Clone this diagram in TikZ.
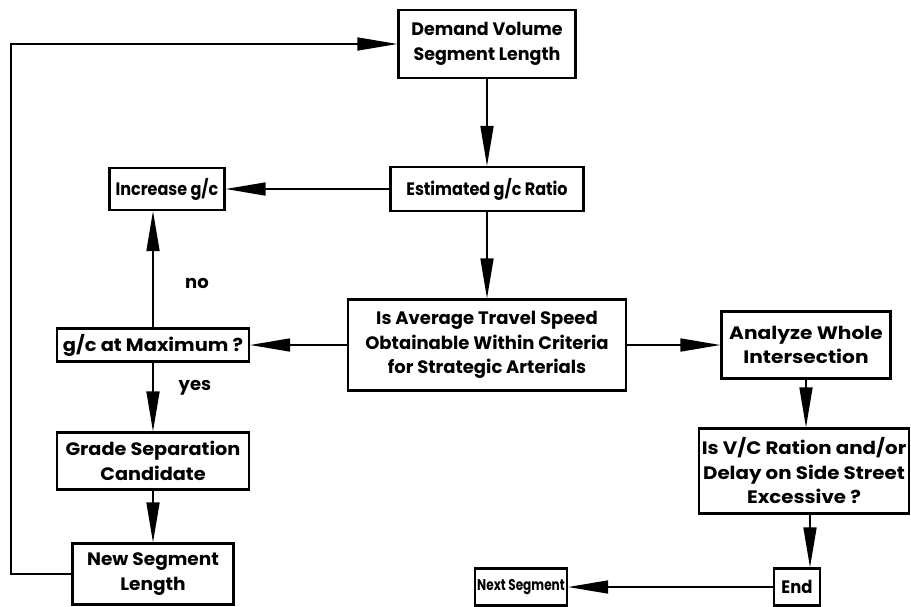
\documentclass[tikz,border=0pt]{standalone}
\usepackage{fontspec}
\setmainfont{Poppins}
\usetikzlibrary{arrows.meta}
\begin{document}
\begin{tikzpicture}[x=1pt,y=-1pt,
  box/.style={draw, line width=2.2pt, align=center, inner sep=0pt,
    font=\fontsize{18}{24.5}\selectfont\bfseries\addfontfeatures{FakeStretch=#1}},
  box/.default=1,
  conn/.style={line width=1.6pt, -{Triangle[length=40pt,width=13pt]}},
  lab/.style={font=\fontsize{18}{22}\selectfont\bfseries}]
\useasboundingbox (0,0) rectangle (911,606);
\node[box=0.97, minimum width=177pt, minimum height=68pt] (dv) at (487,44) {Demand Volume\\Segment Length};
\node[box=0.89, minimum width=193pt, minimum height=44pt] (est) at (487,189) {Estimated g/c Ratio};
\node[box=0.89, minimum width=115pt, minimum height=42pt] (inc) at (167,189) {Increase g/c};
\node[box=1.0, minimum width=278pt, minimum height=91pt] (avg) at (487,345) {Is Average Travel Speed\\Obtainable Within Criteria\\for Strategic Arterials};
\node[box=1.08, minimum width=192pt, minimum height=33pt] (max) at (153,345) {g/c at Maximum ?};
\node[box=1.12, minimum width=169pt, minimum height=67pt] (an) at (806,345) {Analyze Whole\\Intersection};
\node[box=1.1, minimum width=210pt, minimum height=85pt] (vc) at (804,471) {Is V/C Ration and/or\\Delay on Side Street\\Excessive ?};
\node[box=0.91, minimum width=46pt, minimum height=37pt] (end) at (797,587) {End};
\node[box=0.78, minimum width=92pt, minimum height=37pt, font=\fontsize{15.5}{20}\selectfont\bfseries\addfontfeatures{FakeStretch=0.78}] (next) at (521,587) {Next Segment};
\node[box=1.07, minimum width=192pt, minimum height=57pt] (grade) at (153,461) {Grade Separation\\Candidate};
\node[box=1.03, minimum width=161pt, minimum height=61pt] (new) at (153,574) {New Segment\\Length};
\node[lab] (no) at (197,283) {no};
\node[lab] (yes) at (195,388) {yes};
\coordinate (lc) at (11,300);
\coordinate (ax) at (810,0);
\draw[conn] (dv.south) -- (est.north);
\draw[conn] (est.west) -- (inc.east);
\draw[conn] (est.south) -- (avg.north);
\draw[conn] (avg.west) -- (max.east);
\draw[conn] (avg.east) -- (an.west);
\draw[conn] (max.north) -- (max.north |- inc.south);
\draw[conn] (max.south) -- (grade.north);
\draw[conn] (grade.south) -- (new.north);
\draw[conn] (new.west) -| (lc) |- (dv.west);
\draw[conn] (an.south) -- (an.south |- vc.north);
\draw[conn] (vc.south -| ax) -- (end.north -| ax);
\draw[conn] (end.west) -- (next.east);
\end{tikzpicture}
\end{document}
